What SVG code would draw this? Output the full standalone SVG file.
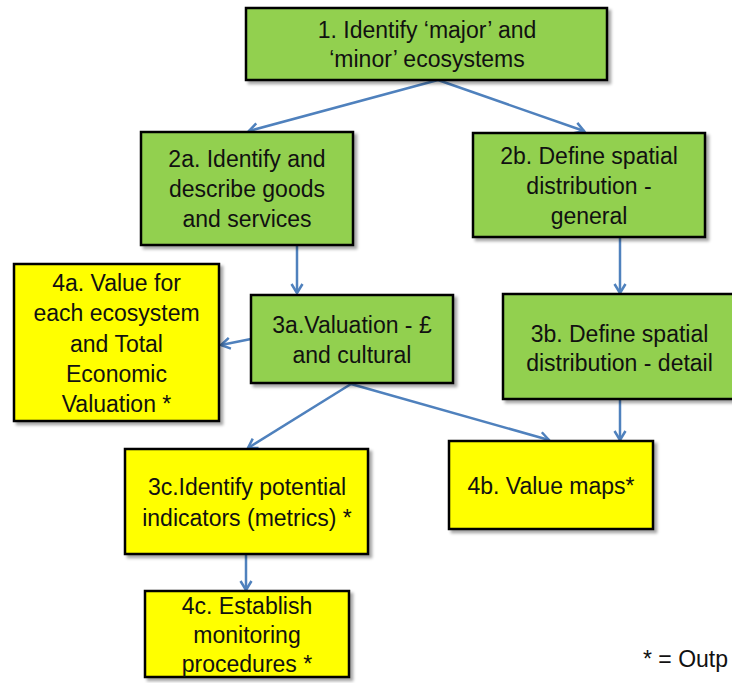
<svg xmlns="http://www.w3.org/2000/svg" width="732" height="683" viewBox="0 0 732 683">
<defs>
<style>
.box{stroke:#000;stroke-width:2.5;filter:url(#sh)}
.g{fill:#92D050}
.y{fill:#FFFF00}
text{font-family:"Liberation Sans",Arial,sans-serif;font-size:23px;fill:#111;text-anchor:middle}
.c{fill:none;stroke:#4F81BD;stroke-width:2.5;marker-end:url(#arr)}
</style>
<filter id="sh" x="-10%" y="-10%" width="130%" height="130%">
<feDropShadow dx="3" dy="3" stdDeviation="1.5" flood-color="#000" flood-opacity="0.35"/>
</filter>
<marker id="arr" markerWidth="14" markerHeight="14" refX="11" refY="7" orient="auto" markerUnits="userSpaceOnUse">
<path d="M2,1.5 L11,7 L2,12.5" fill="none" stroke="#4F81BD" stroke-width="2.5"/>
</marker>
</defs>
<rect width="732" height="683" fill="#fff"/>
<g id="connectors">
<line class="c" x1="438" y1="80" x2="249" y2="131"/>
<line class="c" x1="438" y1="80" x2="584" y2="131"/>
<line class="c" x1="297" y1="246" x2="297" y2="293"/>
<line class="c" x1="620" y1="238" x2="620" y2="293"/>
<line class="c" x1="251" y1="339" x2="221" y2="345"/>
<line class="c" x1="351" y1="384" x2="248" y2="448"/>
<line class="c" x1="351" y1="384" x2="549" y2="440"/>
<line class="c" x1="620" y1="400" x2="620" y2="440"/>
<line class="c" x1="246" y1="555" x2="246" y2="590"/>
</g>
<g id="n1">
<rect class="box g" x="246" y="8" width="361" height="72"/>
<text x="427" y="38">1. Identify ‘major’ and</text>
<text x="427" y="67">‘minor’ ecosystems</text>
</g>
<g id="n2a">
<rect class="box g" x="141" y="132" width="212" height="113"/>
<text x="247" y="167">2a. Identify and</text>
<text x="247" y="197">describe goods</text>
<text x="247" y="227">and services</text>
</g>
<g id="n2b">
<rect class="box g" x="473" y="133" width="232" height="104"/>
<text x="589" y="164">2b. Define spatial</text>
<text x="589" y="194">distribution -</text>
<text x="589" y="224">general</text>
</g>
<g id="n4a">
<rect class="box y" x="14" y="264" width="205" height="157"/>
<text x="116.5" y="291">4a. Value for</text>
<text x="116.5" y="321">each ecosystem</text>
<text x="116.5" y="352">and Total</text>
<text x="116.5" y="382">Economic</text>
<text x="116.5" y="412">Valuation *</text>
</g>
<g id="n3a">
<rect class="box g" x="251" y="295" width="202" height="88"/>
<text x="352" y="333">3a.Valuation - £</text>
<text x="352" y="363">and cultural</text>
</g>
<g id="n3b">
<rect class="box g" x="503" y="294" width="233" height="105"/>
<text x="619.5" y="342">3b. Define spatial</text>
<text x="619.5" y="371">distribution - detail</text>
</g>
<g id="n3c">
<rect class="box y" x="125" y="449" width="243" height="105"/>
<text x="247" y="495">3c.Identify potential</text>
<text x="247" y="526">indicators (metrics) *</text>
</g>
<g id="n4b">
<rect class="box y" x="449" y="441" width="204" height="88"/>
<text x="551" y="494">4b. Value maps*</text>
</g>
<g id="n4c">
<rect class="box y" x="145" y="591" width="204" height="86"/>
<text x="247" y="614">4c. Establish</text>
<text x="247" y="643">monitoring</text>
<text x="247" y="672">procedures *</text>
</g>
<text x="643" y="667" style="text-anchor:start;font-size:23px">* = Outp</text>
</svg>
